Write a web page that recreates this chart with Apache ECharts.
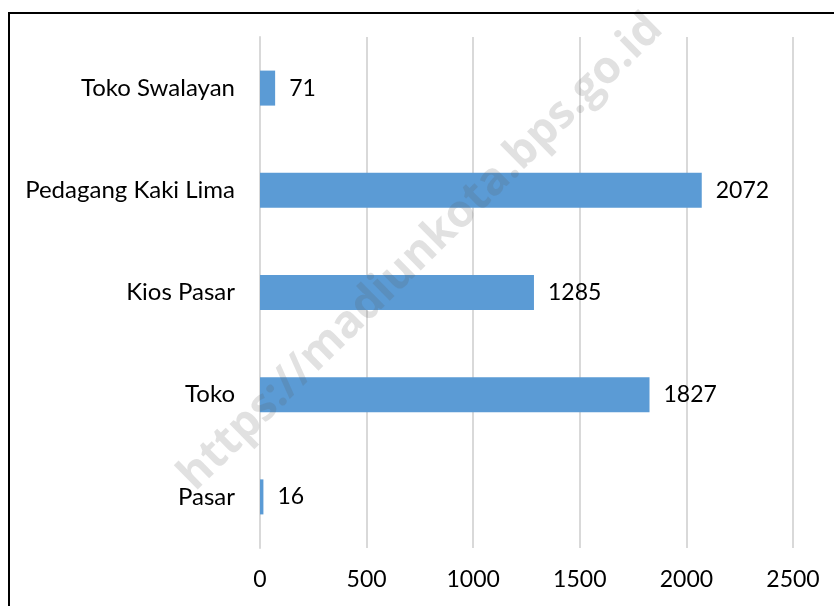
<!DOCTYPE html>
<html>
<head>
<meta charset="utf-8">
<script src="https://cdn.jsdelivr.net/npm/echarts@6/dist/echarts.min.js"></script>
<style>
  html, body { margin: 0; padding: 0; background: #fff; }
  #chart { width: 834px; height: 606px; }
</style>
</head>
<body>
<div id="chart"></div>
<script>
// categories from bottom to top (category axis on y starts at the bottom)
const categories = ["Pasar", "Toko", "Kios Pasar", "Pedagang Kaki Lima", "Toko Swalayan"];
const values = [16, 1827, 1285, 2072, 71];
const xTicks = [0, 500, 1000, 1500, 2000, 2500];

const chart = echarts.init(document.getElementById("chart"));
const font = "Lato, 'Open Sans', sans-serif";

chart.setOption({
  animation: false,
  backgroundColor: "#fff",
  grid: { left: 260, right: 41, top: 37, bottom: 58, containLabel: false },
  xAxis: {
    type: "value",
    min: xTicks[0],
    max: xTicks[xTicks.length - 1],
    interval: 500,
    axisLine: { show: false },
    axisTick: { show: false },
    axisLabel: {
      color: "#000", fontFamily: font, fontSize: 23, margin: 20,
      formatter: (v) => String(v)
    },
    splitLine: { lineStyle: { color: "#d9d9d9", width: 2 } }
  },
  yAxis: {
    type: "category",
    data: categories,
    axisLine: { lineStyle: { color: "#d9d9d9", width: 2 } },
    axisTick: { show: false },
    axisLabel: { color: "#000", fontFamily: font, fontSize: 24, margin: 25 }
  },
  graphic: [
    {
      // watermark, drawn over the bars
      type: "text",
      z: 50,
      x: 202,
      y: 499,
      rotation: Math.PI * 44.5 / 180,
      style: {
        text: "https://madiunkota.bps.go.id",
        fill: "rgba(90,90,90,0.18)",
        font: "bold 45px 'Open Sans', sans-serif",
        verticalAlign: "bottom"
      }
    },
    {
      type: "rect",
      z: 100,
      shape: { x: 9, y: 13, width: 900, height: 700 },
      style: { fill: "none", stroke: "#000", lineWidth: 2 }
    }
  ],
  series: [
    {
      type: "bar",
      data: values,
      barWidth: 35,
      z: 3,
      itemStyle: { color: "#5b9bd5" },
      label: {
        show: true,
        position: "right",
        distance: 14,
        color: "#000",
        fontFamily: font,
        fontSize: 23
      }
    }
  ]
});
</script>
</body>
</html>
